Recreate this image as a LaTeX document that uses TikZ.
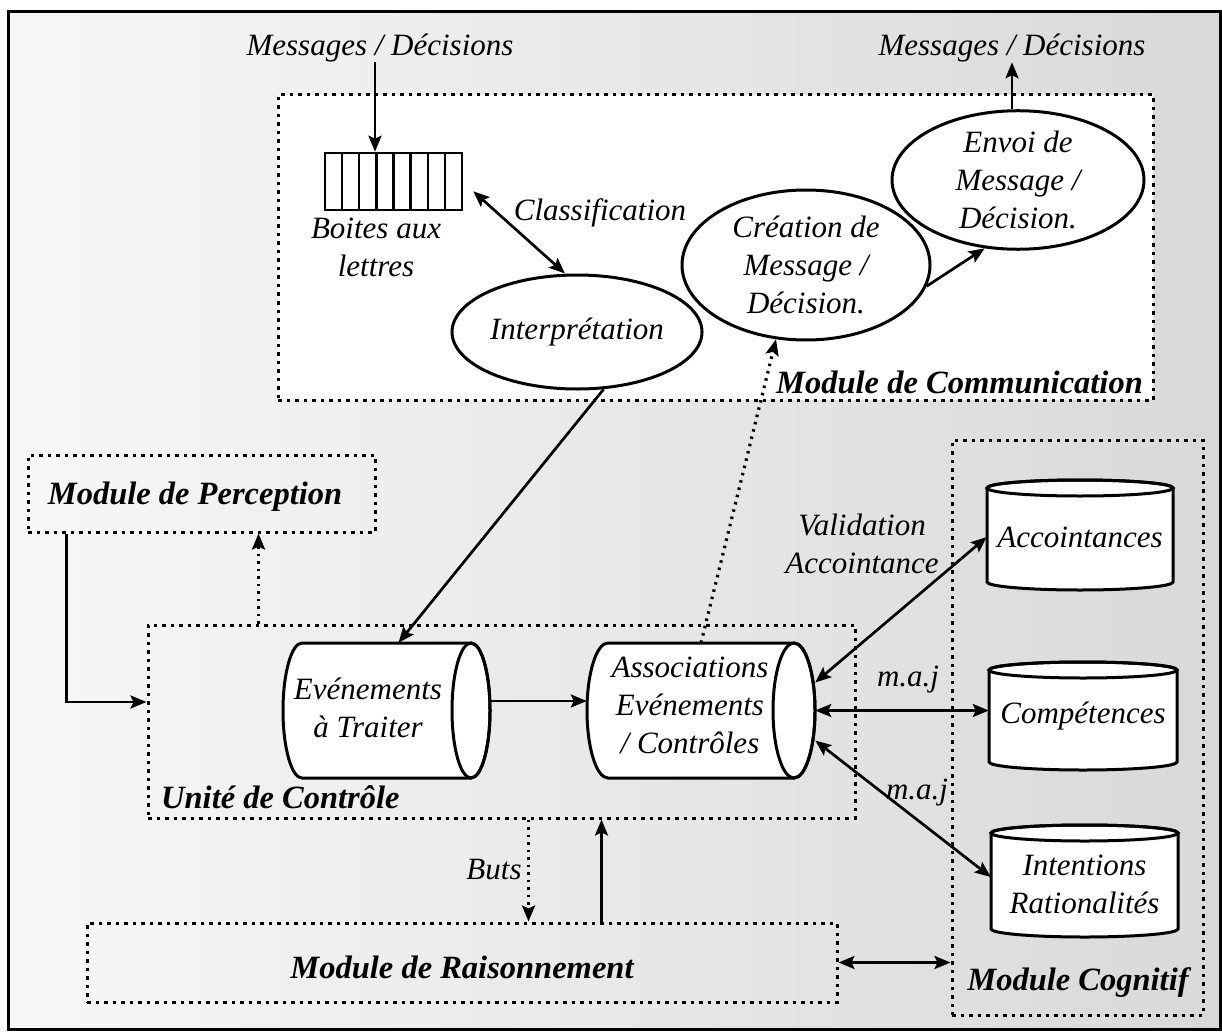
\documentclass[tikz,border=0pt]{standalone}
\usepackage{fontspec}
\setmainfont{Liberation Serif}
\usetikzlibrary{shapes.geometric,arrows.meta,calc}
\begin{document}
\begin{tikzpicture}[x=1pt,y=-1pt,
  txt/.style={font=\fontsize{31}{38}\selectfont\itshape, align=center, inner sep=0pt},
  modlabel/.style={font=\fontsize{32.5}{38}\selectfont\bfseries\itshape, inner sep=0pt},
  modbox/.style={draw, line width=3pt, dash pattern=on 3.5pt off 5pt, rectangle, inner sep=0pt},
  oval/.style={ellipse, draw, line width=3pt, fill=white, inner sep=0pt, font=\fontsize{31}{38}\selectfont\itshape, align=center},
  tip/.tip={Stealth[length=16pt,width=13pt,inset=3pt]},
  arr/.style={line width=2.7pt, -tip},
  darr/.style={line width=2.7pt, tip-tip},
  dotarr/.style={line width=3.2pt, dash pattern=on 2.5pt off 5pt, -tip},
  cyl/.style={line width=3pt, fill=white},
]
\useasboundingbox (0,0) rectangle (1222,1032);
% background and frame
\shade[left color=gray!6, right color=gray!30] (8,12) rectangle (1220,1029);
\draw[line width=3pt] (8,12) rectangle (1220,1029);

% module boxes
\node[modbox, fill=white, minimum width=875pt, minimum height=305pt] (comm) at (715.5,247.5) {};
\node[modbox, minimum width=347pt, minimum height=77pt] (perc) at (201.5,493.5) {};
\node[modbox, minimum width=707pt, minimum height=193pt] (unite) at (501.5,721.5) {};
\node[modbox, minimum width=750pt, minimum height=79pt] (raison) at (462,962.5) {};
\node[modbox, minimum width=251pt, minimum height=575pt] (cog) at (1077.5,727.5) {};

\node[modlabel, anchor=east] (commlbl) at (1143,382) {Module de Communication};
\node[modlabel] (perclbl) at (195,497) {Module de Perception};
\node[modlabel, anchor=west] (unitelbl) at (161,797) {Unité de Contrôle};
\node[modlabel] (raisonlbl) at (462,967) {Module de Raisonnement};
\node[modlabel] (coglbl) at (1078,983) {Module Cognitif};

% communication module content
\node[txt] (msgin) at (380,48) {Messages / Décisions};
\node[txt] (msgout) at (1012,48) {Messages / Décisions};
\node[draw, line width=2.6pt, fill=white, minimum width=137pt, minimum height=57pt, inner sep=0pt] (mbox) at (393.5,181.5) {};
\foreach \i in {1,...,7} \draw[line width=2.3pt] ({325+\i*17.125},153) -- ({325+\i*17.125},210);
\node[txt] (boites) at (376,247) {Boites aux\\lettres};
\node[txt] (classif) at (600,213) {Classification};
\node[oval, minimum width=250pt, minimum height=114pt] (interp) at (577,332) {Interprétation};
\node[oval, minimum width=248pt, minimum height=150pt] (creat) at (806,265) {Création de\\Message /\\Décision.};
\node[oval, minimum width=252pt, minimum height=134pt] (envoi) at (1018,180) {Envoi de\\Message /\\Décision.};

% horizontal cylinders
\draw[cyl] (302,643) -- (471,643) arc[start angle=90,end angle=-90,x radius=19pt,y radius=67.5pt] -- (302,778) arc[start angle=270,end angle=90,x radius=19pt,y radius=67.5pt] -- cycle;
\draw[line width=3pt] (471,710.5) ellipse[x radius=19pt,y radius=67.5pt];
\node[minimum width=207pt, minimum height=135pt, inner sep=0pt] (evt) at (386.5,710.5) {};
\node[txt] (evtlbl) at (368,708) {Evénements\\à Traiter};

\draw[cyl] (608,643) -- (794,643) arc[start angle=90,end angle=-90,x radius=21pt,y radius=67.5pt] -- (608,778) arc[start angle=270,end angle=90,x radius=21pt,y radius=67.5pt] -- cycle;
\draw[line width=3pt] (794,710.5) ellipse[x radius=21pt,y radius=67.5pt];
\node[minimum width=228pt, minimum height=135pt, inner sep=0pt] (assoc) at (701,710.5) {};
\node[txt] (assoclbl) at (690,705) {Associations\\Evénements\\/ Contrôles};

% vertical cylinders
\draw[cyl] (987,488) -- (987,582) arc[start angle=180,end angle=360,x radius=93pt,y radius=8pt] -- (1173,488) arc[start angle=0,end angle=180,x radius=93pt,y radius=8pt] -- cycle;
\draw[line width=3pt] (1080,488) ellipse[x radius=93pt,y radius=8pt];
\node[txt, minimum width=186pt, minimum height=110pt] (acc) at (1080,537) {Accointances};

\draw[cyl] (989,670) -- (989,762) arc[start angle=180,end angle=360,x radius=94pt,y radius=8pt] -- (1177,670) arc[start angle=0,end angle=180,x radius=94pt,y radius=8pt] -- cycle;
\draw[line width=3pt] (1083,670) ellipse[x radius=94pt,y radius=8pt];
\node[txt, minimum width=188pt, minimum height=108pt] (comp) at (1083,716) {Compétences};

\draw[cyl] (991,833) -- (991,929) arc[start angle=180,end angle=360,x radius=93.5pt,y radius=8pt] -- (1178,833) arc[start angle=0,end angle=180,x radius=93.5pt,y radius=8pt] -- cycle;
\draw[line width=3pt] (1084.5,833) ellipse[x radius=93.5pt,y radius=8pt];
\node[txt, minimum width=187pt, minimum height=112pt] (intent) at (1084.5,884) {Intentions\\Rationalités};

% labels
\node[txt] (valid) at (862,544) {Validation\\Accointance};
\node[txt] (maj1) at (908,680) {m.a.j};
\node[txt] (maj2) at (917,793) {m.a.j};
\node[txt] (buts) at (494,870) {Buts};

% connectors
\draw[arr] ([xshift=-5pt]msgin.south) -- ([xshift=-5pt]msgin.south |- mbox.north);
\draw[darr] ([shift={(10,-20)}]mbox.south east) -- ([xshift=-12pt]interp.north);
\draw[arr] (interp.-65) -- ([xshift=12pt]evt.north);
\draw[arr] (creat.-10) -- (envoi.-116);
\draw[arr] (envoi.north -| msgout.south) -- (msgout.south);
\draw[dotarr] (assoc.north) -- (creat.-112);
\draw[arr] ([xshift=40pt]perc.south west) |- ([yshift=19.5pt]unite.west);
\draw[dotarr] ([xshift=112pt]unite.north west) -- ([xshift=112pt]unite.north west |- perc.south);
\draw[arr] ([yshift=9.5pt]evt.east) -- ([yshift=9.5pt]assoc.west);
\draw[dotarr] ([xshift=382pt]unite.south west) -- ([xshift=382pt]unite.south west |- raison.north);
\draw[arr] ([xshift=455pt]unite.south west |- raison.north) -- ([xshift=455pt]unite.south west);
\draw[darr] (raison.east) -- (raison.east -| cog.west);
\draw[darr] ([yshift=28pt]assoc.east) -- (acc.west);
\draw[darr] (assoc.east) -- (assoc.east -| comp.west);
\draw[darr] ([yshift=-30pt]assoc.east) -- ([yshift=7pt]intent.west);
\end{tikzpicture}
\end{document}
